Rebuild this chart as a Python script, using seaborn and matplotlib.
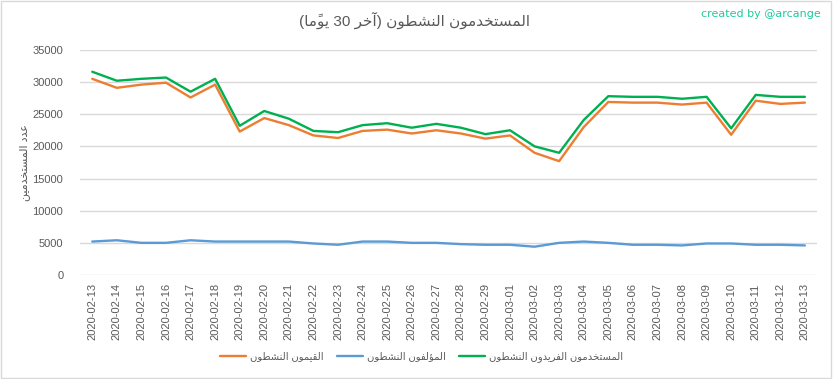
"""Active users over the last 30 days (Arabic labels)."""

import matplotlib
matplotlib.use('Agg')
import matplotlib.pyplot as plt
from matplotlib.patches import Rectangle
import seaborn as sns
import pandas as pd

dates = ['2020-02-13', '2020-02-14', '2020-02-15', '2020-02-16', '2020-02-17',
         '2020-02-18', '2020-02-19', '2020-02-20', '2020-02-21', '2020-02-22',
         '2020-02-23', '2020-02-24', '2020-02-25', '2020-02-26', '2020-02-27',
         '2020-02-28', '2020-02-29', '2020-03-01', '2020-03-02', '2020-03-03',
         '2020-03-04', '2020-03-05', '2020-03-06', '2020-03-07', '2020-03-08',
         '2020-03-09', '2020-03-10', '2020-03-11', '2020-03-12', '2020-03-13']

curators = [30500, 29100, 29600, 29900, 27600, 29600, 22300, 24400, 23300, 21700,
            21300, 22400, 22600, 22000, 22500, 22000, 21200, 21700, 19000, 17700,
            23000, 26900, 26800, 26800, 26500, 26800, 21800, 27100, 26600, 26800]
authors = [5200, 5400, 5000, 5000, 5400, 5200, 5200, 5200, 5200, 4900,
           4700, 5200, 5200, 5000, 5000, 4800, 4700, 4700, 4400, 5000,
           5200, 5000, 4700, 4700, 4600, 4900, 4900, 4700, 4700, 4600]
unique_users = [31600, 30200, 30500, 30700, 28500, 30500, 23200, 25500, 24300, 22400,
                22200, 23300, 23600, 22900, 23500, 22900, 21900, 22500, 20000, 19000,
                24100, 27800, 27700, 27700, 27400, 27700, 22800, 28000, 27700, 27700]

series_names = ['القيمون النشطون', 'المؤلفون النشطون', 'المستخدمون الفريدون النشطون']
series_colors = ['#ED7D31', '#5B9BD5', '#00B050']
title = 'المستخدمون النشطون (آخر 30 يومًا)'
ylabel = 'عدد المستخدمين'
yticks = [0, 5000, 10000, 15000, 20000, 25000, 30000, 35000]

# --- minimal Arabic shaping (matplotlib has no complex text layout) ---
FORMS = {  # isolated, final, initial, medial
    'ا': (0xFE8D, 0xFE8E), 'آ': (0xFE81, 0xFE82), 'ؤ': (0xFE85, 0xFE86),
    'د': (0xFEA9, 0xFEAA), 'ر': (0xFEAD, 0xFEAE), 'و': (0xFEED, 0xFEEE),
    'ت': (0xFE95, 0xFE96, 0xFE97, 0xFE98), 'خ': (0xFEA5, 0xFEA6, 0xFEA7, 0xFEA8),
    'س': (0xFEB1, 0xFEB2, 0xFEB3, 0xFEB4), 'ش': (0xFEB5, 0xFEB6, 0xFEB7, 0xFEB8),
    'ط': (0xFEC1, 0xFEC2, 0xFEC3, 0xFEC4), 'ع': (0xFEC9, 0xFECA, 0xFECB, 0xFECC),
    'ف': (0xFED1, 0xFED2, 0xFED3, 0xFED4), 'ق': (0xFED5, 0xFED6, 0xFED7, 0xFED8),
    'ل': (0xFEDD, 0xFEDE, 0xFEDF, 0xFEE0), 'م': (0xFEE1, 0xFEE2, 0xFEE3, 0xFEE4),
    'ن': (0xFEE5, 0xFEE6, 0xFEE7, 0xFEE8), 'ي': (0xFEF1, 0xFEF2, 0xFEF3, 0xFEF4),
}
MARKS = set('\u064B\u064C\u064D\u064E\u064F\u0650\u0651\u0652')


def shape_arabic(text):
    chars = list(text)
    bases = [i for i, c in enumerate(chars) if c not in MARKS]
    out = {}
    for k, i in enumerate(bases):
        c = chars[i]
        if c not in FORMS:
            out[i] = c
            continue
        prev = chars[bases[k - 1]] if k > 0 else ''
        nxt = chars[bases[k + 1]] if k + 1 < len(bases) else ''
        joins_prev = prev in FORMS and len(FORMS[prev]) == 4
        joins_next = nxt in FORMS and len(FORMS[c]) == 4
        f = FORMS[c]
        if joins_prev and joins_next:
            out[i] = chr(f[3])
        elif joins_prev:
            out[i] = chr(f[1])
        elif joins_next:
            out[i] = chr(f[2])
        else:
            out[i] = chr(f[0])
    # clusters: base + following marks, then visual (right-to-left) order
    clusters = []
    for i, c in enumerate(chars):
        if c in MARKS and clusters:
            clusters[-1] += c
        else:
            clusters.append(out.get(i, c))
    clusters = clusters[::-1]
    mirror = {'(': ')', ')': '('}
    clusters = [mirror.get(c, c) for c in clusters]
    # keep digit runs left-to-right
    result, run = [], []
    for c in clusters + ['']:
        if c.isdigit():
            run.append(c)
        else:
            result.extend(run[::-1])
            run = []
            result.append(c)
    return ''.join(result)


sns.set_theme(style='white')
plt.rcParams['font.family'] = ['Liberation Sans', 'DejaVu Sans']

df = pd.DataFrame({
    'date': dates * 3,
    'value': curators + authors + unique_users,
    'series': [shape_arabic(n) for n in series_names for _ in dates],
})

fig = plt.figure(figsize=(8.33, 3.79), dpi=100)
ax = fig.add_axes([0.096, 0.2744, 0.885, 0.594])

sns.lineplot(data=df, x='date', y='value', hue='series',
             hue_order=[shape_arabic(n) for n in series_names],
             palette=series_colors, linewidth=1.7, sort=False, ax=ax)

ax.set_xlim(-0.5, len(dates) - 0.5)
ax.set_ylim(0, 35000)
ax.set_yticks(yticks)
ax.set_yticklabels([str(v) for v in yticks])
ax.yaxis.grid(True, color='#d9d9d9', linewidth=1.0)
ax.set_axisbelow(True)
for s in ax.spines.values():
    s.set_visible(False)
ax.tick_params(axis='both', length=0, colors='#595959', labelsize=8)
ax.tick_params(axis='x', pad=6)
ax.tick_params(axis='y', pad=12)
plt.setp(ax.get_xticklabels(), rotation=90)
ax.set_xlabel('')
ax.set_ylabel(shape_arabic(ylabel), fontsize=8, color='#595959', labelpad=2)

handles, labels = ax.get_legend_handles_labels()
ax.get_legend().remove()
fig.legend(handles, labels, loc='center', bbox_to_anchor=(0.506, 0.058), ncol=3,
           frameon=False, fontsize=7.2, handlelength=2.6, handletextpad=0.4,
           columnspacing=1.3, labelcolor='#595959')

fig.text(0.498, 0.946, shape_arabic(title), ha='center', va='center',
         fontsize=11, color='#595959')
fig.text(0.985, 0.962, 'created by @arcange', ha='right', va='center',
         fontsize=8, color='#1fc99a', family=['DejaVu Sans'])

fig.patches.append(Rectangle((0.001, 0.002), 0.997, 0.995, transform=fig.transFigure,
                             fill=False, edgecolor='#d9d9d9', linewidth=1.0))

fig.savefig('out.png', dpi=100)
plt.close(fig)
